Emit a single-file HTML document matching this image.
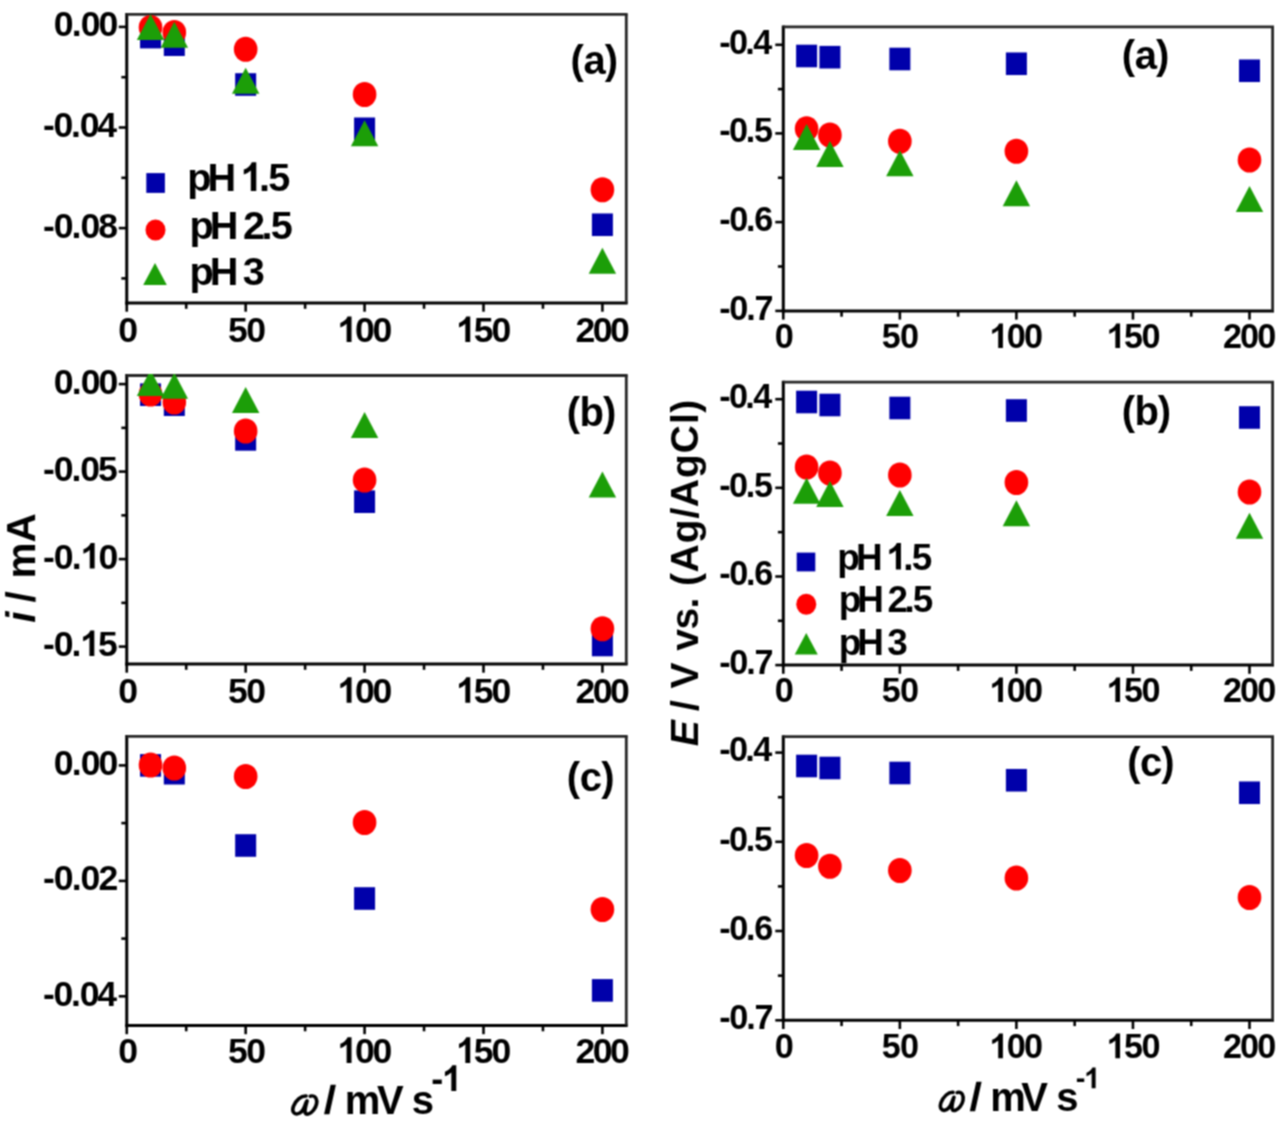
<!DOCTYPE html>
<html><head><meta charset="utf-8"><title>chart</title>
<style>
html,body{margin:0;padding:0;background:#fff;}
body{width:1280px;height:1123px;overflow:hidden;font-family:"Liberation Sans",sans-serif;}
svg text{font-family:"Liberation Sans",sans-serif;}
</style></head><body>
<svg width="1280" height="1123" viewBox="0 0 1280 1123" style="display:block">
<defs><filter id="bl" x="0" y="0" width="1280" height="1123" filterUnits="userSpaceOnUse" color-interpolation-filters="sRGB"><feConvolveMatrix order="3" kernelMatrix="1 2 1 2 4 2 1 2 1" edgeMode="duplicate" preserveAlpha="false"/></filter></defs>
<rect width="1280" height="1123" fill="#fff"/>
<g id="all" filter="url(#bl)">
<rect width="1280" height="1123" fill="#fff"/>
<line x1="126.75" y1="13.05" x2="126.75" y2="304.50" stroke="#000" stroke-width="3.0"/>
<line x1="125.25" y1="303.0" x2="627.70" y2="303.0" stroke="#000" stroke-width="3.0"/>
<line x1="126.75" y1="14.45" x2="627.70" y2="14.45" stroke="#262626" stroke-width="2.8"/>
<line x1="626.3" y1="14.45" x2="626.3" y2="303.0" stroke="#262626" stroke-width="2.8"/>
<line x1="118.75" y1="26.9" x2="126.75" y2="26.9" stroke="#000" stroke-width="2.6"/>
<line x1="118.75" y1="127.5" x2="126.75" y2="127.5" stroke="#000" stroke-width="2.6"/>
<line x1="118.75" y1="228.1" x2="126.75" y2="228.1" stroke="#000" stroke-width="2.6"/>
<line x1="121.35" y1="77.2" x2="126.75" y2="77.2" stroke="#000" stroke-width="2.6"/>
<line x1="121.35" y1="177.8" x2="126.75" y2="177.8" stroke="#000" stroke-width="2.6"/>
<line x1="121.35" y1="278.4" x2="126.75" y2="278.4" stroke="#000" stroke-width="2.6"/>
<text x="53.79 71.70 80.65 98.56" y="36.30" font-size="35.6" font-weight="bold" fill="#000" >0.00</text>
<text x="43.01 53.50 71.02 79.77 97.29" y="136.90" font-size="35.6" font-weight="bold" fill="#000" >-0.04</text>
<text x="43.01 53.67 71.49 80.38 98.20" y="237.50" font-size="35.6" font-weight="bold" fill="#000" >-0.08</text>
<line x1="126.75" y1="303.0" x2="126.75" y2="311.70" stroke="#000" stroke-width="2.6"/>
<text x="118.28" y="342.10" font-size="35.6" font-weight="bold" fill="#000" >0</text>
<line x1="245.66" y1="303.0" x2="245.66" y2="311.70" stroke="#000" stroke-width="2.6"/>
<text x="227.97 246.13" y="342.10" font-size="35.6" font-weight="bold" fill="#000" >50</text>
<line x1="364.58" y1="303.0" x2="364.58" y2="311.70" stroke="#000" stroke-width="2.6"/>
<text x="337.51 355.00 372.49" y="342.10" font-size="35.6" font-weight="bold" fill="#000" > 00</text>
<path d="M806 0L525 0L525 1059Q371 915 162 846L162 1101Q272 1137 401 1237.5Q530 1338 578 1472L806 1472Z" fill="#000" transform="translate(337.51,342.10) scale(0.01738,-0.01738)"/>
<line x1="483.50" y1="303.0" x2="483.50" y2="311.70" stroke="#000" stroke-width="2.6"/>
<text x="456.23 473.82 491.41" y="342.10" font-size="35.6" font-weight="bold" fill="#000" > 50</text>
<path d="M806 0L525 0L525 1059Q371 915 162 846L162 1101Q272 1137 401 1237.5Q530 1338 578 1472L806 1472Z" fill="#000" transform="translate(456.23,342.10) scale(0.01738,-0.01738)"/>
<line x1="602.41" y1="303.0" x2="602.41" y2="311.70" stroke="#000" stroke-width="2.6"/>
<text x="575.43 592.72 610.02" y="342.10" font-size="35.6" font-weight="bold" fill="#000" >200</text>
<line x1="186.21" y1="303.0" x2="186.21" y2="308.80" stroke="#000" stroke-width="2.6"/>
<line x1="305.12" y1="303.0" x2="305.12" y2="308.80" stroke="#000" stroke-width="2.6"/>
<line x1="424.04" y1="303.0" x2="424.04" y2="308.80" stroke="#000" stroke-width="2.6"/>
<line x1="542.95" y1="303.0" x2="542.95" y2="308.80" stroke="#000" stroke-width="2.6"/>
<rect x="140.03" y="25.80" width="21.0" height="22.6" fill="#0000AA"/>
<rect x="163.82" y="33.40" width="21.0" height="22.6" fill="#0000AA"/>
<rect x="235.16" y="73.20" width="21.0" height="22.6" fill="#0000AA"/>
<rect x="354.08" y="117.50" width="21.0" height="22.6" fill="#0000AA"/>
<rect x="591.91" y="213.45" width="21.0" height="22.6" fill="#0000AA"/>
<ellipse cx="150.53" cy="27.50" rx="11.8" ry="12.6" fill="#FF0000"/>
<ellipse cx="174.32" cy="32.50" rx="11.8" ry="12.6" fill="#FF0000"/>
<ellipse cx="245.66" cy="49.25" rx="11.8" ry="12.6" fill="#FF0000"/>
<ellipse cx="364.58" cy="94.50" rx="11.8" ry="12.6" fill="#FF0000"/>
<ellipse cx="602.41" cy="189.75" rx="11.8" ry="12.6" fill="#FF0000"/>
<polygon points="136.83,40.00 164.23,40.00 150.53,14.00" fill="#1C9E08"/>
<polygon points="160.62,47.80 188.02,47.80 174.32,21.80" fill="#1C9E08"/>
<polygon points="231.97,93.75 259.37,93.75 245.66,67.75" fill="#1C9E08"/>
<polygon points="350.88,146.25 378.28,146.25 364.58,120.25" fill="#1C9E08"/>
<polygon points="588.71,273.80 616.11,273.80 602.41,247.80" fill="#1C9E08"/>
<line x1="126.75" y1="374.10" x2="126.75" y2="665.50" stroke="#000" stroke-width="3.0"/>
<line x1="125.25" y1="664.0" x2="627.70" y2="664.0" stroke="#000" stroke-width="3.0"/>
<line x1="126.75" y1="375.5" x2="627.70" y2="375.5" stroke="#262626" stroke-width="2.8"/>
<line x1="626.3" y1="375.5" x2="626.3" y2="664.0" stroke="#262626" stroke-width="2.8"/>
<line x1="118.75" y1="384.1" x2="126.75" y2="384.1" stroke="#000" stroke-width="2.6"/>
<line x1="118.75" y1="471.6" x2="126.75" y2="471.6" stroke="#000" stroke-width="2.6"/>
<line x1="118.75" y1="559.1" x2="126.75" y2="559.1" stroke="#000" stroke-width="2.6"/>
<line x1="118.75" y1="646.6" x2="126.75" y2="646.6" stroke="#000" stroke-width="2.6"/>
<line x1="121.35" y1="427.85" x2="126.75" y2="427.85" stroke="#000" stroke-width="2.6"/>
<line x1="121.35" y1="515.35" x2="126.75" y2="515.35" stroke="#000" stroke-width="2.6"/>
<line x1="121.35" y1="602.85" x2="126.75" y2="602.85" stroke="#000" stroke-width="2.6"/>
<text x="53.79 71.70 80.65 98.56" y="393.50" font-size="35.6" font-weight="bold" fill="#000" >0.00</text>
<text x="43.01 53.65 71.43 80.31 98.09" y="481.00" font-size="35.6" font-weight="bold" fill="#000" >-0.05</text>
<text x="43.01 53.75 71.67 80.63 98.56" y="568.50" font-size="35.6" font-weight="bold" fill="#000" >-0. 0</text>
<path d="M806 0L525 0L525 1059Q371 915 162 846L162 1101Q272 1137 401 1237.5Q530 1338 578 1472L806 1472Z" fill="#000" transform="translate(80.63,568.50) scale(0.01738,-0.01738)"/>
<text x="43.01 53.65 71.43 80.31 98.09" y="656.00" font-size="35.6" font-weight="bold" fill="#000" >-0. 5</text>
<path d="M806 0L525 0L525 1059Q371 915 162 846L162 1101Q272 1137 401 1237.5Q530 1338 578 1472L806 1472Z" fill="#000" transform="translate(80.31,656.00) scale(0.01738,-0.01738)"/>
<line x1="126.75" y1="664.0" x2="126.75" y2="672.70" stroke="#000" stroke-width="2.6"/>
<text x="118.28" y="702.85" font-size="35.6" font-weight="bold" fill="#000" >0</text>
<line x1="245.66" y1="664.0" x2="245.66" y2="672.70" stroke="#000" stroke-width="2.6"/>
<text x="227.97 246.13" y="702.85" font-size="35.6" font-weight="bold" fill="#000" >50</text>
<line x1="364.58" y1="664.0" x2="364.58" y2="672.70" stroke="#000" stroke-width="2.6"/>
<text x="337.51 355.00 372.49" y="702.85" font-size="35.6" font-weight="bold" fill="#000" > 00</text>
<path d="M806 0L525 0L525 1059Q371 915 162 846L162 1101Q272 1137 401 1237.5Q530 1338 578 1472L806 1472Z" fill="#000" transform="translate(337.51,702.85) scale(0.01738,-0.01738)"/>
<line x1="483.50" y1="664.0" x2="483.50" y2="672.70" stroke="#000" stroke-width="2.6"/>
<text x="456.23 473.82 491.41" y="702.85" font-size="35.6" font-weight="bold" fill="#000" > 50</text>
<path d="M806 0L525 0L525 1059Q371 915 162 846L162 1101Q272 1137 401 1237.5Q530 1338 578 1472L806 1472Z" fill="#000" transform="translate(456.23,702.85) scale(0.01738,-0.01738)"/>
<line x1="602.41" y1="664.0" x2="602.41" y2="672.70" stroke="#000" stroke-width="2.6"/>
<text x="575.43 592.72 610.02" y="702.85" font-size="35.6" font-weight="bold" fill="#000" >200</text>
<line x1="186.21" y1="664.0" x2="186.21" y2="669.80" stroke="#000" stroke-width="2.6"/>
<line x1="305.12" y1="664.0" x2="305.12" y2="669.80" stroke="#000" stroke-width="2.6"/>
<line x1="424.04" y1="664.0" x2="424.04" y2="669.80" stroke="#000" stroke-width="2.6"/>
<line x1="542.95" y1="664.0" x2="542.95" y2="669.80" stroke="#000" stroke-width="2.6"/>
<rect x="140.03" y="383.40" width="21.0" height="22.6" fill="#0000AA"/>
<rect x="163.82" y="393.40" width="21.0" height="22.6" fill="#0000AA"/>
<rect x="235.16" y="428.10" width="21.0" height="22.6" fill="#0000AA"/>
<rect x="354.08" y="490.40" width="21.0" height="22.6" fill="#0000AA"/>
<rect x="591.91" y="633.70" width="21.0" height="22.6" fill="#0000AA"/>
<ellipse cx="150.53" cy="394.00" rx="11.8" ry="12.6" fill="#FF0000"/>
<ellipse cx="174.32" cy="402.00" rx="11.8" ry="12.6" fill="#FF0000"/>
<ellipse cx="245.66" cy="431.00" rx="11.8" ry="12.6" fill="#FF0000"/>
<ellipse cx="364.58" cy="480.00" rx="11.8" ry="12.6" fill="#FF0000"/>
<ellipse cx="602.41" cy="628.75" rx="11.8" ry="12.6" fill="#FF0000"/>
<clipPath id="cb"><rect x="120" y="374.1" width="520" height="300"/></clipPath><g clip-path="url(#cb)">
<polygon points="136.83,396.00 164.23,396.00 150.53,370.00" fill="#1C9E08"/>
<polygon points="160.62,398.75 188.02,398.75 174.32,372.75" fill="#1C9E08"/>
<polygon points="231.97,413.00 259.37,413.00 245.66,387.00" fill="#1C9E08"/>
<polygon points="350.88,438.00 378.28,438.00 364.58,412.00" fill="#1C9E08"/>
<polygon points="588.71,497.50 616.11,497.50 602.41,471.50" fill="#1C9E08"/>
</g>
<line x1="126.75" y1="735.00" x2="126.75" y2="1027.00" stroke="#000" stroke-width="3.0"/>
<line x1="125.25" y1="1025.5" x2="627.70" y2="1025.5" stroke="#000" stroke-width="3.0"/>
<line x1="126.75" y1="736.4" x2="627.70" y2="736.4" stroke="#262626" stroke-width="2.8"/>
<line x1="626.3" y1="736.4" x2="626.3" y2="1025.5" stroke="#262626" stroke-width="2.8"/>
<line x1="118.75" y1="765.4" x2="126.75" y2="765.4" stroke="#000" stroke-width="2.6"/>
<line x1="118.75" y1="880.9" x2="126.75" y2="880.9" stroke="#000" stroke-width="2.6"/>
<line x1="118.75" y1="996.3" x2="126.75" y2="996.3" stroke="#000" stroke-width="2.6"/>
<line x1="121.35" y1="823.1" x2="126.75" y2="823.1" stroke="#000" stroke-width="2.6"/>
<line x1="121.35" y1="938.6" x2="126.75" y2="938.6" stroke="#000" stroke-width="2.6"/>
<text x="53.79 71.70 80.65 98.56" y="774.80" font-size="35.6" font-weight="bold" fill="#000" >0.00</text>
<text x="43.01 53.74 71.66 80.61 98.53" y="890.30" font-size="35.6" font-weight="bold" fill="#000" >-0.02</text>
<text x="43.01 53.50 71.02 79.77 97.29" y="1005.70" font-size="35.6" font-weight="bold" fill="#000" >-0.04</text>
<line x1="126.75" y1="1025.5" x2="126.75" y2="1034.20" stroke="#000" stroke-width="2.6"/>
<text x="118.28" y="1062.90" font-size="35.6" font-weight="bold" fill="#000" >0</text>
<line x1="245.66" y1="1025.5" x2="245.66" y2="1034.20" stroke="#000" stroke-width="2.6"/>
<text x="227.97 246.13" y="1062.90" font-size="35.6" font-weight="bold" fill="#000" >50</text>
<line x1="364.58" y1="1025.5" x2="364.58" y2="1034.20" stroke="#000" stroke-width="2.6"/>
<text x="337.51 355.00 372.49" y="1062.90" font-size="35.6" font-weight="bold" fill="#000" > 00</text>
<path d="M806 0L525 0L525 1059Q371 915 162 846L162 1101Q272 1137 401 1237.5Q530 1338 578 1472L806 1472Z" fill="#000" transform="translate(337.51,1062.90) scale(0.01738,-0.01738)"/>
<line x1="483.50" y1="1025.5" x2="483.50" y2="1034.20" stroke="#000" stroke-width="2.6"/>
<text x="456.23 473.82 491.41" y="1062.90" font-size="35.6" font-weight="bold" fill="#000" > 50</text>
<path d="M806 0L525 0L525 1059Q371 915 162 846L162 1101Q272 1137 401 1237.5Q530 1338 578 1472L806 1472Z" fill="#000" transform="translate(456.23,1062.90) scale(0.01738,-0.01738)"/>
<line x1="602.41" y1="1025.5" x2="602.41" y2="1034.20" stroke="#000" stroke-width="2.6"/>
<text x="575.43 592.72 610.02" y="1062.90" font-size="35.6" font-weight="bold" fill="#000" >200</text>
<line x1="186.21" y1="1025.5" x2="186.21" y2="1031.30" stroke="#000" stroke-width="2.6"/>
<line x1="305.12" y1="1025.5" x2="305.12" y2="1031.30" stroke="#000" stroke-width="2.6"/>
<line x1="424.04" y1="1025.5" x2="424.04" y2="1031.30" stroke="#000" stroke-width="2.6"/>
<line x1="542.95" y1="1025.5" x2="542.95" y2="1031.30" stroke="#000" stroke-width="2.6"/>
<rect x="140.03" y="754.10" width="21.0" height="22.6" fill="#0000AA"/>
<rect x="163.82" y="761.90" width="21.0" height="22.6" fill="#0000AA"/>
<rect x="235.16" y="834.20" width="21.0" height="22.6" fill="#0000AA"/>
<rect x="354.08" y="887.20" width="21.0" height="22.6" fill="#0000AA"/>
<rect x="591.91" y="979.10" width="21.0" height="22.6" fill="#0000AA"/>
<ellipse cx="150.53" cy="765.00" rx="11.8" ry="12.6" fill="#FF0000"/>
<ellipse cx="174.32" cy="768.00" rx="11.8" ry="12.6" fill="#FF0000"/>
<ellipse cx="245.66" cy="776.50" rx="11.8" ry="12.6" fill="#FF0000"/>
<ellipse cx="364.58" cy="822.50" rx="11.8" ry="12.6" fill="#FF0000"/>
<ellipse cx="602.41" cy="909.50" rx="11.8" ry="12.6" fill="#FF0000"/>
<line x1="783.3" y1="25.40" x2="783.3" y2="312.40" stroke="#000" stroke-width="3.0"/>
<line x1="781.80" y1="310.9" x2="1274.00" y2="310.9" stroke="#000" stroke-width="3.0"/>
<line x1="783.3" y1="26.8" x2="1274.00" y2="26.8" stroke="#262626" stroke-width="2.8"/>
<line x1="1272.6" y1="26.8" x2="1272.6" y2="310.9" stroke="#262626" stroke-width="2.8"/>
<line x1="775.30" y1="44.8" x2="783.3" y2="44.8" stroke="#000" stroke-width="2.6"/>
<line x1="775.30" y1="133.4" x2="783.3" y2="133.4" stroke="#000" stroke-width="2.6"/>
<line x1="775.30" y1="222.1" x2="783.3" y2="222.1" stroke="#000" stroke-width="2.6"/>
<line x1="775.30" y1="310.9" x2="783.3" y2="310.9" stroke="#000" stroke-width="2.6"/>
<line x1="777.90" y1="89.1" x2="783.3" y2="89.1" stroke="#000" stroke-width="2.6"/>
<line x1="777.90" y1="177.75" x2="783.3" y2="177.75" stroke="#000" stroke-width="2.6"/>
<line x1="777.90" y1="266.5" x2="783.3" y2="266.5" stroke="#000" stroke-width="2.6"/>
<text x="719.16 728.89 745.15 753.26" y="53.50" font-size="34.2" font-weight="bold" fill="#000" >-0.4</text>
<text x="719.16 729.11 745.73 754.03" y="142.10" font-size="34.2" font-weight="bold" fill="#000" >-0.5</text>
<text x="719.16 729.19 745.95 754.32" y="230.80" font-size="34.2" font-weight="bold" fill="#000" >-0.6</text>
<text x="719.16 729.27 746.15 754.58" y="319.60" font-size="34.2" font-weight="bold" fill="#000" >-0.7</text>
<line x1="783.30" y1="310.9" x2="783.30" y2="319.60" stroke="#000" stroke-width="2.6"/>
<text x="774.81" y="348.05" font-size="34.2" font-weight="bold" fill="#000" >0</text>
<line x1="899.85" y1="310.9" x2="899.85" y2="319.60" stroke="#000" stroke-width="2.6"/>
<text x="881.75 899.88" y="348.05" font-size="34.2" font-weight="bold" fill="#000" >50</text>
<line x1="1016.40" y1="310.9" x2="1016.40" y2="319.60" stroke="#000" stroke-width="2.6"/>
<text x="989.45 1006.74 1024.03" y="348.05" font-size="34.2" font-weight="bold" fill="#000" > 00</text>
<path d="M806 0L525 0L525 1059Q371 915 162 846L162 1101Q272 1137 401 1237.5Q530 1338 578 1472L806 1472Z" fill="#000" transform="translate(989.45,348.05) scale(0.01670,-0.01670)"/>
<line x1="1132.95" y1="310.9" x2="1132.95" y2="319.60" stroke="#000" stroke-width="2.6"/>
<text x="1106.60 1123.99 1141.38" y="348.05" font-size="34.2" font-weight="bold" fill="#000" > 50</text>
<path d="M806 0L525 0L525 1059Q371 915 162 846L162 1101Q272 1137 401 1237.5Q530 1338 578 1472L806 1472Z" fill="#000" transform="translate(1106.60,348.05) scale(0.01670,-0.01670)"/>
<line x1="1249.50" y1="310.9" x2="1249.50" y2="319.60" stroke="#000" stroke-width="2.6"/>
<text x="1222.98 1240.10 1257.22" y="348.05" font-size="34.2" font-weight="bold" fill="#000" >200</text>
<line x1="841.57" y1="310.9" x2="841.57" y2="316.70" stroke="#000" stroke-width="2.6"/>
<line x1="958.12" y1="310.9" x2="958.12" y2="316.70" stroke="#000" stroke-width="2.6"/>
<line x1="1074.67" y1="310.9" x2="1074.67" y2="316.70" stroke="#000" stroke-width="2.6"/>
<line x1="1191.22" y1="310.9" x2="1191.22" y2="316.70" stroke="#000" stroke-width="2.6"/>
<rect x="796.11" y="44.70" width="21.0" height="22.6" fill="#0000AA"/>
<rect x="819.42" y="45.90" width="21.0" height="22.6" fill="#0000AA"/>
<rect x="889.35" y="47.70" width="21.0" height="22.6" fill="#0000AA"/>
<rect x="1005.90" y="52.45" width="21.0" height="22.6" fill="#0000AA"/>
<rect x="1239.00" y="59.45" width="21.0" height="22.6" fill="#0000AA"/>
<ellipse cx="806.61" cy="128.75" rx="11.8" ry="12.6" fill="#FF0000"/>
<ellipse cx="829.92" cy="135.00" rx="11.8" ry="12.6" fill="#FF0000"/>
<ellipse cx="899.85" cy="141.25" rx="11.8" ry="12.6" fill="#FF0000"/>
<ellipse cx="1016.40" cy="151.25" rx="11.8" ry="12.6" fill="#FF0000"/>
<ellipse cx="1249.50" cy="160.00" rx="11.8" ry="12.6" fill="#FF0000"/>
<polygon points="792.91,150.00 820.31,150.00 806.61,124.00" fill="#1C9E08"/>
<polygon points="816.22,167.00 843.62,167.00 829.92,141.00" fill="#1C9E08"/>
<polygon points="886.15,176.25 913.55,176.25 899.85,150.25" fill="#1C9E08"/>
<polygon points="1002.70,206.25 1030.10,206.25 1016.40,180.25" fill="#1C9E08"/>
<polygon points="1235.80,212.00 1263.20,212.00 1249.50,186.00" fill="#1C9E08"/>
<line x1="783.3" y1="380.80" x2="783.3" y2="666.60" stroke="#000" stroke-width="3.0"/>
<line x1="781.80" y1="665.1" x2="1274.00" y2="665.1" stroke="#000" stroke-width="3.0"/>
<line x1="783.3" y1="382.2" x2="1274.00" y2="382.2" stroke="#262626" stroke-width="2.8"/>
<line x1="1272.6" y1="382.2" x2="1272.6" y2="665.1" stroke="#262626" stroke-width="2.8"/>
<line x1="775.30" y1="399.2" x2="783.3" y2="399.2" stroke="#000" stroke-width="2.6"/>
<line x1="775.30" y1="487.8" x2="783.3" y2="487.8" stroke="#000" stroke-width="2.6"/>
<line x1="775.30" y1="576.5" x2="783.3" y2="576.5" stroke="#000" stroke-width="2.6"/>
<line x1="775.30" y1="665.1" x2="783.3" y2="665.1" stroke="#000" stroke-width="2.6"/>
<line x1="777.90" y1="443.5" x2="783.3" y2="443.5" stroke="#000" stroke-width="2.6"/>
<line x1="777.90" y1="532.15" x2="783.3" y2="532.15" stroke="#000" stroke-width="2.6"/>
<line x1="777.90" y1="620.8" x2="783.3" y2="620.8" stroke="#000" stroke-width="2.6"/>
<text x="719.16 728.89 745.15 753.26" y="407.90" font-size="34.2" font-weight="bold" fill="#000" >-0.4</text>
<text x="719.16 729.11 745.73 754.03" y="496.50" font-size="34.2" font-weight="bold" fill="#000" >-0.5</text>
<text x="719.16 729.19 745.95 754.32" y="585.20" font-size="34.2" font-weight="bold" fill="#000" >-0.6</text>
<text x="719.16 729.27 746.15 754.58" y="673.80" font-size="34.2" font-weight="bold" fill="#000" >-0.7</text>
<line x1="783.30" y1="665.1" x2="783.30" y2="673.80" stroke="#000" stroke-width="2.6"/>
<text x="774.81" y="702.10" font-size="34.2" font-weight="bold" fill="#000" >0</text>
<line x1="899.85" y1="665.1" x2="899.85" y2="673.80" stroke="#000" stroke-width="2.6"/>
<text x="881.75 899.88" y="702.10" font-size="34.2" font-weight="bold" fill="#000" >50</text>
<line x1="1016.40" y1="665.1" x2="1016.40" y2="673.80" stroke="#000" stroke-width="2.6"/>
<text x="989.45 1006.74 1024.03" y="702.10" font-size="34.2" font-weight="bold" fill="#000" > 00</text>
<path d="M806 0L525 0L525 1059Q371 915 162 846L162 1101Q272 1137 401 1237.5Q530 1338 578 1472L806 1472Z" fill="#000" transform="translate(989.45,702.10) scale(0.01670,-0.01670)"/>
<line x1="1132.95" y1="665.1" x2="1132.95" y2="673.80" stroke="#000" stroke-width="2.6"/>
<text x="1106.60 1123.99 1141.38" y="702.10" font-size="34.2" font-weight="bold" fill="#000" > 50</text>
<path d="M806 0L525 0L525 1059Q371 915 162 846L162 1101Q272 1137 401 1237.5Q530 1338 578 1472L806 1472Z" fill="#000" transform="translate(1106.60,702.10) scale(0.01670,-0.01670)"/>
<line x1="1249.50" y1="665.1" x2="1249.50" y2="673.80" stroke="#000" stroke-width="2.6"/>
<text x="1222.98 1240.10 1257.22" y="702.10" font-size="34.2" font-weight="bold" fill="#000" >200</text>
<line x1="841.57" y1="665.1" x2="841.57" y2="670.90" stroke="#000" stroke-width="2.6"/>
<line x1="958.12" y1="665.1" x2="958.12" y2="670.90" stroke="#000" stroke-width="2.6"/>
<line x1="1074.67" y1="665.1" x2="1074.67" y2="670.90" stroke="#000" stroke-width="2.6"/>
<line x1="1191.22" y1="665.1" x2="1191.22" y2="670.90" stroke="#000" stroke-width="2.6"/>
<rect x="796.11" y="390.70" width="21.0" height="22.6" fill="#0000AA"/>
<rect x="819.42" y="393.70" width="21.0" height="22.6" fill="#0000AA"/>
<rect x="889.35" y="396.70" width="21.0" height="22.6" fill="#0000AA"/>
<rect x="1005.90" y="399.20" width="21.0" height="22.6" fill="#0000AA"/>
<rect x="1239.00" y="406.20" width="21.0" height="22.6" fill="#0000AA"/>
<ellipse cx="806.61" cy="467.00" rx="11.8" ry="12.6" fill="#FF0000"/>
<ellipse cx="829.92" cy="473.00" rx="11.8" ry="12.6" fill="#FF0000"/>
<ellipse cx="899.85" cy="475.00" rx="11.8" ry="12.6" fill="#FF0000"/>
<ellipse cx="1016.40" cy="482.50" rx="11.8" ry="12.6" fill="#FF0000"/>
<ellipse cx="1249.50" cy="492.00" rx="11.8" ry="12.6" fill="#FF0000"/>
<polygon points="792.91,503.75 820.31,503.75 806.61,477.75" fill="#1C9E08"/>
<polygon points="816.22,507.00 843.62,507.00 829.92,481.00" fill="#1C9E08"/>
<polygon points="886.15,516.00 913.55,516.00 899.85,490.00" fill="#1C9E08"/>
<polygon points="1002.70,526.25 1030.10,526.25 1016.40,500.25" fill="#1C9E08"/>
<polygon points="1235.80,538.75 1263.20,538.75 1249.50,512.75" fill="#1C9E08"/>
<line x1="783.3" y1="735.30" x2="783.3" y2="1021.80" stroke="#000" stroke-width="3.0"/>
<line x1="781.80" y1="1020.3" x2="1274.00" y2="1020.3" stroke="#000" stroke-width="3.0"/>
<line x1="783.3" y1="736.7" x2="1274.00" y2="736.7" stroke="#262626" stroke-width="2.8"/>
<line x1="1272.6" y1="736.7" x2="1272.6" y2="1020.3" stroke="#262626" stroke-width="2.8"/>
<line x1="775.30" y1="752.6" x2="783.3" y2="752.6" stroke="#000" stroke-width="2.6"/>
<line x1="775.30" y1="841.8" x2="783.3" y2="841.8" stroke="#000" stroke-width="2.6"/>
<line x1="775.30" y1="931.0" x2="783.3" y2="931.0" stroke="#000" stroke-width="2.6"/>
<line x1="775.30" y1="1020.3" x2="783.3" y2="1020.3" stroke="#000" stroke-width="2.6"/>
<line x1="777.90" y1="797.2" x2="783.3" y2="797.2" stroke="#000" stroke-width="2.6"/>
<line x1="777.90" y1="886.4" x2="783.3" y2="886.4" stroke="#000" stroke-width="2.6"/>
<line x1="777.90" y1="975.65" x2="783.3" y2="975.65" stroke="#000" stroke-width="2.6"/>
<text x="719.16 728.89 745.15 753.26" y="761.30" font-size="34.2" font-weight="bold" fill="#000" >-0.4</text>
<text x="719.16 729.11 745.73 754.03" y="850.50" font-size="34.2" font-weight="bold" fill="#000" >-0.5</text>
<text x="719.16 729.19 745.95 754.32" y="939.70" font-size="34.2" font-weight="bold" fill="#000" >-0.6</text>
<text x="719.16 729.27 746.15 754.58" y="1029.00" font-size="34.2" font-weight="bold" fill="#000" >-0.7</text>
<line x1="783.30" y1="1020.3" x2="783.30" y2="1029.00" stroke="#000" stroke-width="2.6"/>
<text x="774.81" y="1058.20" font-size="34.2" font-weight="bold" fill="#000" >0</text>
<line x1="899.85" y1="1020.3" x2="899.85" y2="1029.00" stroke="#000" stroke-width="2.6"/>
<text x="881.75 899.88" y="1058.20" font-size="34.2" font-weight="bold" fill="#000" >50</text>
<line x1="1016.40" y1="1020.3" x2="1016.40" y2="1029.00" stroke="#000" stroke-width="2.6"/>
<text x="989.45 1006.74 1024.03" y="1058.20" font-size="34.2" font-weight="bold" fill="#000" > 00</text>
<path d="M806 0L525 0L525 1059Q371 915 162 846L162 1101Q272 1137 401 1237.5Q530 1338 578 1472L806 1472Z" fill="#000" transform="translate(989.45,1058.20) scale(0.01670,-0.01670)"/>
<line x1="1132.95" y1="1020.3" x2="1132.95" y2="1029.00" stroke="#000" stroke-width="2.6"/>
<text x="1106.60 1123.99 1141.38" y="1058.20" font-size="34.2" font-weight="bold" fill="#000" > 50</text>
<path d="M806 0L525 0L525 1059Q371 915 162 846L162 1101Q272 1137 401 1237.5Q530 1338 578 1472L806 1472Z" fill="#000" transform="translate(1106.60,1058.20) scale(0.01670,-0.01670)"/>
<line x1="1249.50" y1="1020.3" x2="1249.50" y2="1029.00" stroke="#000" stroke-width="2.6"/>
<text x="1222.98 1240.10 1257.22" y="1058.20" font-size="34.2" font-weight="bold" fill="#000" >200</text>
<line x1="841.57" y1="1020.3" x2="841.57" y2="1026.10" stroke="#000" stroke-width="2.6"/>
<line x1="958.12" y1="1020.3" x2="958.12" y2="1026.10" stroke="#000" stroke-width="2.6"/>
<line x1="1074.67" y1="1020.3" x2="1074.67" y2="1026.10" stroke="#000" stroke-width="2.6"/>
<line x1="1191.22" y1="1020.3" x2="1191.22" y2="1026.10" stroke="#000" stroke-width="2.6"/>
<rect x="796.11" y="754.70" width="21.0" height="22.6" fill="#0000AA"/>
<rect x="819.42" y="756.70" width="21.0" height="22.6" fill="#0000AA"/>
<rect x="889.35" y="761.70" width="21.0" height="22.6" fill="#0000AA"/>
<rect x="1005.90" y="768.95" width="21.0" height="22.6" fill="#0000AA"/>
<rect x="1239.00" y="781.45" width="21.0" height="22.6" fill="#0000AA"/>
<ellipse cx="806.61" cy="855.50" rx="11.8" ry="12.6" fill="#FF0000"/>
<ellipse cx="829.92" cy="866.25" rx="11.8" ry="12.6" fill="#FF0000"/>
<ellipse cx="899.85" cy="870.50" rx="11.8" ry="12.6" fill="#FF0000"/>
<ellipse cx="1016.40" cy="878.00" rx="11.8" ry="12.6" fill="#FF0000"/>
<ellipse cx="1249.50" cy="897.50" rx="11.8" ry="12.6" fill="#FF0000"/>
<text x="570.61 583.44 604.87" y="73.80" font-size="40" font-weight="bold" fill="#000" >(a)</text>
<text x="566.81 579.57 602.97" y="426.00" font-size="40" font-weight="bold" fill="#000" >(b)</text>
<text x="566.81 579.75 601.37" y="791.00" font-size="40" font-weight="bold" fill="#000" >(c)</text>
<text x="1121.81 1134.64 1156.07" y="68.50" font-size="40" font-weight="bold" fill="#000" >(a)</text>
<text x="1121.81 1134.46 1157.67" y="425.00" font-size="40" font-weight="bold" fill="#000" >(b)</text>
<text x="1127.16 1139.97 1161.37" y="776.00" font-size="40" font-weight="bold" fill="#000" >(c)</text>
<rect x="146.30" y="173.10" width="18.6" height="19.8" fill="#0000AA"/>
<ellipse cx="155.50" cy="230.00" rx="10.0" ry="10.6" fill="#FF0000"/>
<polygon points="143.20,285.00 166.80,285.00 155.00,263.00" fill="#1C9E08"/>
<text x="187.18 207.46 231.42 240.65 259.10 268.33" y="190.90" font-size="39.7" font-weight="bold" fill="#000" >pH  .5</text>
<path d="M806 0L525 0L525 1059Q371 915 162 846L162 1101Q272 1137 401 1237.5Q530 1338 578 1472L806 1472Z" fill="#000" transform="translate(240.65,190.90) scale(0.01938,-0.01938)"/>
<text x="189.48 209.76 233.72 242.95 261.40 270.63" y="238.50" font-size="39.7" font-weight="bold" fill="#000" >pH 2.5</text>
<text x="189.48 209.72 233.65 242.86" y="284.90" font-size="39.7" font-weight="bold" fill="#000" >pH 3</text>
<rect x="796.70" y="552.60" width="18.6" height="18.8" fill="#0000AA"/>
<ellipse cx="806.25" cy="604.25" rx="10.0" ry="10.6" fill="#FF0000"/>
<polygon points="794.75,654.50 817.75,654.50 806.25,633.00" fill="#1C9E08"/>
<text x="837.37 855.97 877.95 886.41 903.35 911.80" y="569.50" font-size="36.9" font-weight="bold" fill="#000" >pH  .5</text>
<path d="M806 0L525 0L525 1059Q371 915 162 846L162 1101Q272 1137 401 1237.5Q530 1338 578 1472L806 1472Z" fill="#000" transform="translate(886.41,569.50) scale(0.01802,-0.01802)"/>
<text x="838.77 857.27 879.14 887.55 904.39 912.80" y="612.10" font-size="36.9" font-weight="bold" fill="#000" >pH 2.5</text>
<text x="838.77 857.18 878.94 887.31" y="655.20" font-size="36.9" font-weight="bold" fill="#000" >pH 3</text>
<g transform="translate(35.1,622.0) rotate(-90)">
<text x="-0.87" y="0.00" font-size="40.5" font-weight="bold" fill="#000" ><tspan font-style="italic">i</tspan></text>
<text x="19.52" y="0.00" font-size="40.5" font-weight="bold" fill="#000" >/</text>
<text x="43.53 79.52" y="0.00" font-size="40.5" font-weight="bold" fill="#000" >mA</text>
</g>
<g transform="translate(698.3,745.7) rotate(-90)">
<text x="-0.63" y="0.00" font-size="39" font-weight="bold" fill="#000" ><tspan font-style="italic">E</tspan></text>
<text x="34.73" y="0.00" font-size="39" font-weight="bold" fill="#000" >/</text>
<text x="57.09" y="0.00" font-size="39" font-weight="bold" fill="#000" >V</text>
<text x="94.95 116.10 137.25" y="0.00" font-size="39" font-weight="bold" fill="#000" >vs.</text>
<text x="159.76 173.24 202.46 227.19 238.43 267.66 292.38 321.61 332.86" y="0.00" font-size="39" font-weight="bold" fill="#000" >(Ag/AgCl)</text>
</g>
<path d="M590 258C470 250 330 360 265 540C220 680 290 752 370 737C450 722 520 640 560 520C580 460 600 410 616 388C600 450 540 640 570 712C600 772 700 742 780 640C860 540 890 400 840 312C812 262 742 246 700 262" fill="none" stroke="#000" stroke-width="94" stroke-linecap="round" stroke-linejoin="round" transform="translate(283.00,1086.33) scale(0.039062,0.037383)"/>
<polygon points="324.10,1114.20 329.40,1114.20 335.90,1084.70 330.60,1084.70" fill="#000"/>
<text x="344.66 377.09" y="1113.70" font-size="40" font-weight="bold" fill="#000" >mV</text>
<text x="411.84" y="1113.70" font-size="40" font-weight="bold" fill="#000" >s</text>
<text x="431.27" y="1091.10" font-size="36" font-weight="bold" fill="#000" >-</text>
<text x="442.09" y="1091.10" font-size="36" font-weight="bold" fill="#000" > </text>
<path d="M806 0L525 0L525 1059Q371 915 162 846L162 1101Q272 1137 401 1237.5Q530 1338 578 1472L806 1472Z" fill="#000" transform="translate(442.09,1091.10) scale(0.01758,-0.01758)"/>
<path d="M590 258C470 250 330 360 265 540C220 680 290 752 370 737C450 722 520 640 560 520C580 460 600 410 616 388C600 450 540 640 570 712C600 772 700 742 780 640C860 540 890 400 840 312C812 262 742 246 700 262" fill="none" stroke="#000" stroke-width="94" stroke-linecap="round" stroke-linejoin="round" transform="translate(931.00,1082.73) scale(0.037305,0.037383)"/>
<polygon points="969.80,1111.30 975.10,1111.30 981.60,1081.80 976.30,1081.80" fill="#000"/>
<text x="990.36 1021.29" y="1110.80" font-size="40" font-weight="bold" fill="#000" >mV</text>
<text x="1056.14" y="1110.80" font-size="40" font-weight="bold" fill="#000" >s</text>
<text x="1075.69" y="1088.30" font-size="29" font-weight="bold" fill="#000" >-</text>
<text x="1084.20" y="1088.30" font-size="29" font-weight="bold" fill="#000" > </text>
<path d="M806 0L525 0L525 1059Q371 915 162 846L162 1101Q272 1137 401 1237.5Q530 1338 578 1472L806 1472Z" fill="#000" transform="translate(1084.20,1088.30) scale(0.01416,-0.01416)"/>
</g></svg>
</body></html>
